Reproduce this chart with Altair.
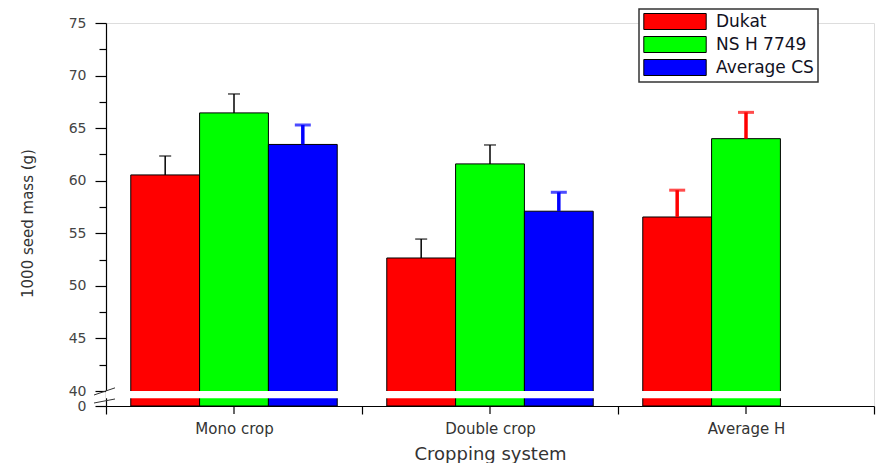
import altair as alt
import pandas as pd

# ---------------- data ----------------
categories = ["Mono crop", "Double crop", "Average H"]
varieties = ["Dukat", "NS H 7749", "Average CS"]
fill_colors = ["#FF0000", "#00FF00", "#0000FF"]

dukat = [60.55, 52.65, 56.55]
nsh_7749 = [66.45, 61.6, 64.0]
average_cs = [63.45, 57.1, None]

dukat_err = [1.8, 1.8, 2.55]
nsh_7749_err = [1.8, 1.8, 2.5]
average_cs_err = [1.85, 1.8, None]

dukat_err_color = ["#000000", "#000000", "#FF0000"]
nsh_7749_err_color = ["#000000", "#000000", "#FF0000"]
average_cs_err_color = ["#0000FF", "#0000FF", None]

y_labelled = [0, 40, 45, 50, 55, 60, 65, 70, 75]
y_minor = [42.5, 47.5, 52.5, 57.5, 62.5, 67.5, 72.5]
y_domain = [0, 40, 75]
break_gap = [21.0, 39.8]
break_slash_low = [29.3, 8.0]
break_slash_high = [40.3, 18.7]

# ---------------- table ----------------
rows = []
series = [
    ("Dukat", dukat, dukat_err, dukat_err_color),
    ("NS H 7749", nsh_7749, nsh_7749_err, nsh_7749_err_color),
    ("Average CS", average_cs, average_cs_err, average_cs_err_color),
]
for name, vals, errs, ecols in series:
    for cat, v, e, c in zip(categories, vals, errs, ecols):
        if v is None:
            continue
        thick = c != "#000000"
        rows.append({
            "category": cat, "variety": name, "value": v,
            "top": v + e, "ecolor": c,
            "ewidth": 3.5 if thick else 1.5,
            "thick": "yes" if thick else "no",
        })
df = pd.DataFrame(rows)

W, H = 768, 383
y_title = "1000 seed mass (g)"
x_title = "Cropping system"

yscale = alt.Scale(domain=y_domain, range=[H, H - 15, 0], nice=False, zero=False)
yaxis = alt.Axis(
    values=sorted(y_labelled + y_minor),
    labelExpr="datum.value % 5 == 0 ? datum.label : ''",
    tickSize={"condition": {"test": "datum.value % 5 != 0", "value": 7}, "value": 11},
    labelOverlap=False,
    labelFont="DejaVu Sans", labelFontSize=14, labelColor="#444444",
    labelPadding=9,
    domainColor="#000000", tickColor="#000000", domainWidth=1.2, tickWidth=1.2,
    grid=False,
    titleFont="DejaVu Sans", titleFontSize=15, titleColor="#333333",
    titleFontWeight="normal", titleX=-71, titleY=200, titleBaseline="bottom",
)
xscale = alt.Scale(domain=categories, paddingInner=0, paddingOuter=0)
xaxis = alt.Axis(
    tickBand="extent", tickSize=8, labelPadding=7, labelAngle=0,
    labelFont="DejaVu Sans", labelFontSize=15, labelColor="#333333",
    domainColor="#000000", tickColor="#000000", domainWidth=1.2, tickWidth=1.2,
    grid=False,
    titleFont="DejaVu Sans", titleFontSize=18, titleColor="#333333",
    titleFontWeight="normal", titleY=53, titleBaseline="alphabetic",
)
X = alt.X("category:N", scale=xscale, axis=xaxis, title=x_title, sort=categories)
XO = alt.XOffset("variety:N",
                 scale=alt.Scale(domain=varieties, paddingInner=0, paddingOuter=0.36),
                 sort=varieties)

base = alt.Chart(df)

bars = base.mark_bar(stroke="#000000", strokeWidth=1).encode(
    x=X, xOffset=XO,
    y=alt.Y("value:Q", scale=yscale, axis=yaxis, title=y_title),
    fill=alt.Fill(
        "variety:N",
        scale=alt.Scale(domain=varieties, range=fill_colors),
        legend=alt.Legend(
            title=None, orient="none", legendX=533, legendY=-14,
            fillColor="#FFFFFF", strokeColor="#333333",
            padding=4,
            symbolType="M-3.9,-1H3.9V1H-3.9Z", symbolSize=256,
            symbolStrokeColor="#000000", symbolStrokeWidth=1,
            symbolOffset=23.5, labelOffset=32.5,
            labelFont="DejaVu Sans", labelFontSize=17, labelColor="#111122",
            rowPadding=2,
        ),
    ),
)

err_rules = base.mark_rule().encode(
    x=X, xOffset=XO,
    y=alt.Y("value:Q", scale=yscale, axis=yaxis, title=y_title),
    y2="top:Q",
    color=alt.Color("ecolor:N", scale=None, legend=None),
    strokeWidth=alt.StrokeWidth("ewidth:Q", scale=None, legend=None),
)

caps_thin = base.transform_filter("datum.thick == 'no'").mark_tick(
    thickness=1.5, size=12
).encode(
    x=X, xOffset=XO,
    y=alt.Y("top:Q", scale=yscale, axis=yaxis, title=y_title),
    color=alt.Color("ecolor:N", scale=None, legend=None),
)
caps_thick = base.transform_filter("datum.thick == 'yes'").mark_tick(
    thickness=3, size=16
).encode(
    x=X, xOffset=XO,
    y=alt.Y("top:Q", scale=yscale, axis=yaxis, title=y_title),
    color=alt.Color("ecolor:N", scale=None, legend=None),
)

gap = alt.Chart(pd.DataFrame({"g1": [break_gap[0]], "g2": [break_gap[1]]})).mark_rect(
    color="#FFFFFF"
).encode(
    y=alt.Y("g1:Q", scale=yscale, axis=yaxis, title=y_title),
    y2="g2:Q",
    x=alt.value(0), x2=alt.value(W),
)

slashes = alt.Chart(pd.DataFrame({"s1": break_slash_low, "s2": break_slash_high})).mark_rule(
    color="#333333", strokeWidth=1
).encode(
    y=alt.Y("s1:Q", scale=yscale, axis=yaxis, title=y_title),
    y2="s2:Q",
    x=alt.value(-12), x2=alt.value(9),
)

center_ticks = alt.Chart(pd.DataFrame({"category": categories})).mark_rule(
    color="#000000", strokeWidth=1.2
).encode(
    x=X,
    y=alt.value(H), y2=alt.value(H + 8),
)

chart = alt.layer(bars, err_rules, caps_thin, caps_thick, gap, slashes, center_ticks).properties(
    width=W, height=H,
    autosize=alt.AutoSizeParams(type="none"),
    padding={"left": 98, "top": 15, "right": 2, "bottom": 57},
).configure_view(stroke=None).configure(font="DejaVu Sans").configure_legend(strokeWidth=1.5)

chart.save("out.html", embed_options={"renderer": "svg", "actions": False})
